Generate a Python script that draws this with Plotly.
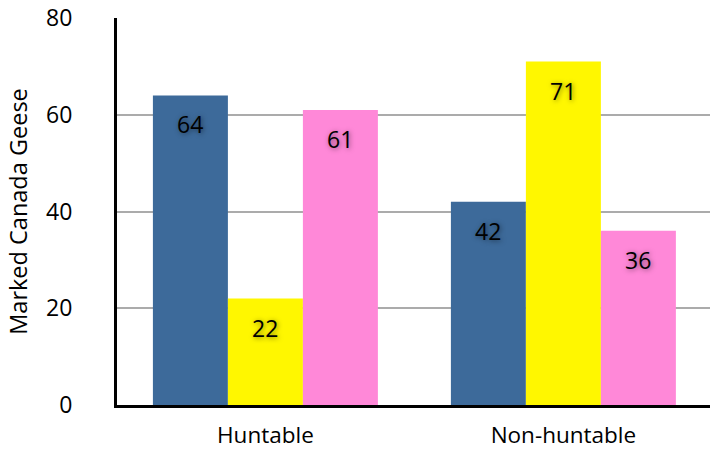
import plotly.graph_objects as go

# Marked Canada geese by area type, three groups per area
categories = ["Huntable", "Non-huntable"]
series_names = ["Group A", "Group B", "Group C"]
series_values = [
    [64, 42],
    [22, 71],
    [61, 36],
]
series_colors = ["#3d6a9a", "#fff700", "#ff88d8"]
y_ticks = [0, 20, 40, 60, 80]

FONT = "Open Sans, Liberation Sans, sans-serif"

fig = go.Figure()
for name, vals, color in zip(series_names, series_values, series_colors):
    fig.add_trace(go.Bar(
        name=name,
        x=categories,
        y=vals,
        marker=dict(color=color, line=dict(width=0)),
        hoverinfo="x+y",
    ))

# value labels sitting inside the top of each bar, with a soft glow
bar_px = 75
for i, vals in enumerate(series_values):
    for cat, v in zip(categories, vals):
        fig.add_annotation(
            x=cat, y=v, xref="x", yref="y",
            text=str(v), showarrow=False,
            xshift=(i - 1) * bar_px, yshift=-29,
            yanchor="middle", xanchor="center",
            font=dict(family=FONT, size=23, color="#000000",
                      shadow="1px 1px 5px rgba(0,0,0,0.5)"),
        )

fig.update_layout(
    width=710, height=450,
    margin=dict(l=117, r=0, t=18, b=45, autoexpand=False),
    paper_bgcolor="white",
    plot_bgcolor="white",
    barmode="group",
    bargap=0.245,
    bargroupgap=0,
    showlegend=False,
    font=dict(family=FONT, size=23, color="#000000"),
)

fig.update_xaxes(
    type="category",
    range=[-0.498, 1.492],
    automargin=False,
    showgrid=False,
    showline=True, linecolor="#000000", linewidth=3,
    ticks="",
    ticklabelstandoff=8,
    tickfont=dict(family=FONT, size=22.5, color="#000000"),
    zeroline=False,
)

fig.update_yaxes(
    range=[0, 80],
    automargin=False,
    tickvals=y_ticks,
    ticktext=[str(t) for t in y_ticks],
    showgrid=True, gridcolor="#ababab", gridwidth=2,
    showline=True, linecolor="#000000", linewidth=3,
    ticks="",
    ticklabelstandoff=37,
    tickfont=dict(family=FONT, size=23, color="#000000"),
    zeroline=False,
    title=dict(text="Marked Canada Geese",
               font=dict(family=FONT, size=23.5, color="#000000"),
               standoff=12),
)

fig.write_html("out.html")
